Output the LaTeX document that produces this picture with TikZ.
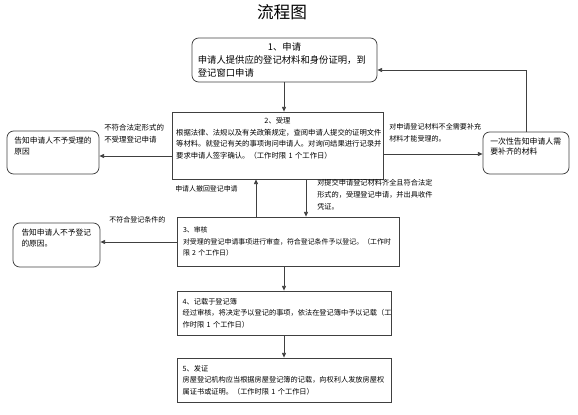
\documentclass[tikz,border=0pt]{standalone}
\usepackage{fontspec}
\setmainfont{Noto Sans CJK SC}
\usetikzlibrary{arrows.meta}
\tikzset{
  ln/.style={draw=black!75, line width=0.6pt},
  arr/.style={ln, -{Triangle[length=3.5pt,width=3pt]}},
  sqbox/.style={ln, rectangle, align=left, inner sep=0pt},
  rdbox/.style={ln, rectangle, rounded corners=5pt, align=left, inner sep=0pt},
  lab/.style={anchor=west, align=left, inner sep=0pt},
}
\begin{document}
\begin{tikzpicture}[x=0.75pt,y=-0.75pt]
\useasboundingbox (0,0) rectangle (578,414);

\node[font=\fontsize{12.5pt}{14pt}\selectfont] (title) at (282,12) {流程图};

\node[rdbox, minimum width=138.75pt, minimum height=33pt, text width=130pt,
      font=\fontsize{7pt}{9.75pt}\selectfont] (box1) at (284.5,60)
  {\makebox[\hsize]{1、申请}\\申请人提供应的登记材料和身份证明，到\\登记窗口申请};

\node[sqbox, minimum width=158.25pt, minimum height=50.25pt, text width=152pt,
      font=\fontsize{5.5pt}{8.6pt}\selectfont] (box2) at (277.5,145.5)
  {\makebox[\hsize]{2、受理}\\根据法律、法规以及有关政策规定，查阅申请人提交的证明文件\\等材料。就登记有关的事项询问申请人。对询问结果进行记录并\\要求申请人签字确认。（工作时限 1 个工作日）\\\strut};

\node[sqbox, minimum width=166.5pt, minimum height=36.75pt, text width=157.5pt,
      font=\fontsize{5.2pt}{8.6pt}\selectfont] (box3) at (288,241.5)
  {3、审核\\对受理的登记申请事项进行审查，符合登记条件予以登记。（工作时\\限 2 个工作日）};

\node[sqbox, minimum width=160.5pt, minimum height=33pt, text width=152pt,
      font=\fontsize{5.4pt}{8.6pt}\selectfont] (box4) at (284,313)
  {4、记载于登记簿\\经过审核，将决定予以登记的事项，依法在登记簿中予以记载（工\\作时限 1 个工作日）};

\node[sqbox, minimum width=160.5pt, minimum height=33pt, text width=152pt,
      font=\fontsize{5.4pt}{8.6pt}\selectfont] (box5) at (284,380)
  {5、发证\\房屋登记机构应当根据房屋登记簿的记载，向权利人发放房屋权\\属证书或证明。（工作时限 1 个工作日）};

\node[rdbox, minimum width=69pt, minimum height=32.25pt, text width=58pt,
      font=\fontsize{5.8pt}{8.25pt}\selectfont] (left1) at (53,152.5)
  {告知申请人不予受理的\\原因\\\strut};

\node[rdbox, minimum width=65.25pt, minimum height=33pt, text width=52.5pt,
      font=\fontsize{5.8pt}{8.6pt}\selectfont] (left2) at (56.5,245)
  {告知申请人不予登记\\的原因。\\\strut};

\node[rdbox, minimum width=64.5pt, minimum height=31.5pt, text width=53.5pt,
      font=\fontsize{5.9pt}{7.7pt}\selectfont] (right) at (526,153)
  {一次性告知申请人需\\要补齐的材料\\\strut};

% labels
\node[lab, font=\fontsize{5.6pt}{9pt}\selectfont] (lab1) at (104,134)
  {不符合法定形式的\\不受理登记申请};
\node[lab, font=\fontsize{5.3pt}{9pt}\selectfont] (lab2) at (389,133)
  {对申请登记材料不全需要补充\\材料才能受理的。};
\node[lab, font=\fontsize{5.2pt}{9pt}\selectfont] (lab3) at (175,189)
  {申请人撤回登记申请};
\node[lab, font=\fontsize{5.4pt}{9pt}\selectfont] (lab4) at (317,195)
  {对提交申请登记材料齐全且符合法定\\形式的，受理登记申请，并出具收件\\凭证。};
\node[lab, font=\fontsize{5.25pt}{9pt}\selectfont] (lab5) at (109,220)
  {不符合登记条件的};

% helper coordinates
\coordinate (fb) at (0,70);
\coordinate (yl1) at (0,156);
\coordinate (yr1) at (0,154);
\coordinate (yl2) at (0,242);
\coordinate (xd) at (306,0);
\coordinate (xu) at (256,0);
\coordinate (xm) at (284,0);

% connectors
\draw[arr] (box1.south -| xm) -- (box2.north -| xm);
\draw[arr] (box2.west |- yl1) -- (left1.east |- yl1);
\draw[arr] (box2.east |- yr1) -- (right.west |- yr1);
\draw[arr] (right.north) |- (box1.east |- fb);
\draw[arr] (box2.south -| xd) -- (box3.north -| xd);
\draw[arr] (box3.north -| xu) -- (box2.south -| xu);
\draw[arr] (box3.west |- yl2) -- (left2.east |- yl2);
\draw[arr] (box3.south -| xm) -- (box4.north -| xm);
\draw[arr] (box4.south -| xm) -- (box5.north -| xm);
\end{tikzpicture}
\end{document}
